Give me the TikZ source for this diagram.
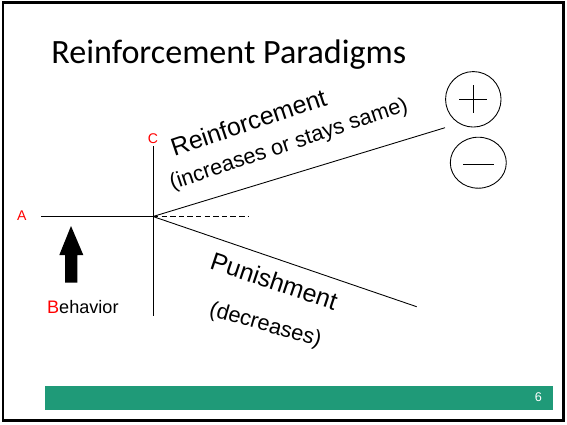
\documentclass[tikz,border=0pt]{standalone}
\usepackage{fontspec}
\setmainfont{Liberation Sans}
\newfontfamily\titlefont{Carlito}
\usetikzlibrary{shapes.geometric}
\definecolor{slidegreen}{RGB}{31,154,120}

\begin{document}
\begin{tikzpicture}[x=0.02cm, y=-0.02cm, line width=0.5pt,
    letter/.style={inner sep=0pt, text=red, font=\fontsize{8}{8}\selectfont},
    branch/.style={inner sep=0pt, anchor=base west, font=\fontsize{14.2}{15}\selectfont},
    effect/.style={inner sep=0pt, anchor=base west, font=\fontsize{12.4}{13}\selectfont},
    sign/.style={draw, inner sep=0pt}]
  \useasboundingbox (0,0) rectangle (567,424);

  % Slide frame and footer bar
  \draw[line width=1.5pt] (3,2.5) rectangle (563.7,420.7);
  \fill[slidegreen] (45,386) rectangle (553,410);
  \node[inner sep=0pt, text=white, font=\fontsize{7.2}{8}\selectfont] (page) at (538.5,397.5) {6};

  % Title
  \node[inner sep=0pt, anchor=base west, font=\titlefont\fontsize{19.4}{20}\selectfont]
    (title) at (51,63.5) {Reinforcement Paradigms};

  % Key points
  \coordinate (O) at (153,216.5);
  \coordinate (Aend) at (41,216.5);
  \coordinate (Ctop) at (153,146);
  \coordinate (Cbot) at (153,316);
  \coordinate (Dend) at (248,216.5);
  \coordinate (Rend) at (445,127.7);
  \coordinate (Pend) at (416.7,306.7);

  % Axes
  \node[letter] (A) at (21.7,216) {A};
  \node[letter] (C) at (153,139) {C};
  \draw (Aend) -- (O);
  \draw (Ctop) -- (Cbot);
  \draw[dash pattern=on 3.1pt off 1.8pt] (O) -- (Dend);

  % Branches
  \draw (O) -- (Rend);
  \draw (O) -- (Pend);
  \node[branch, rotate=18.5] (reinf) at (174,156.5) {Reinforcement};
  \node[effect, rotate=18.5] (reinfnote) at (172,190) {(increases or stays same)};
  \node[branch, rotate=-18.5] (punish) at (208.5,268.5) {Punishment};
  \node[effect, rotate=-16] (punishnote) at (208,315) {(decreases)};

  % Positive and negative
  \node[sign, circle, minimum size=1.11cm] (plus) at (473.3,99.3) {};
  \draw (plus.center) ++(-14,0) -- ++(28,0);
  \draw (plus.center) ++(0,-14) -- ++(0,28);
  \node[sign, ellipse, minimum width=1.12cm, minimum height=1.02cm] (minus) at (478.3,162.7) {};
  \draw (minus.center) ++(-15,2) -- ++(31,0);

  % Behavior arrow
  \fill (65,282.7) -- (65,255) -- (59.3,255) -- (71,226) -- (83.3,255)
    -- (77.3,255) -- (77.3,282.7) -- cycle;
  \node[inner sep=0pt, anchor=base west, font=\fontsize{10.3}{11}\selectfont]
    (behavior) at (46.7,313) {\textcolor{red}{B}ehavior};
\end{tikzpicture}
\end{document}
